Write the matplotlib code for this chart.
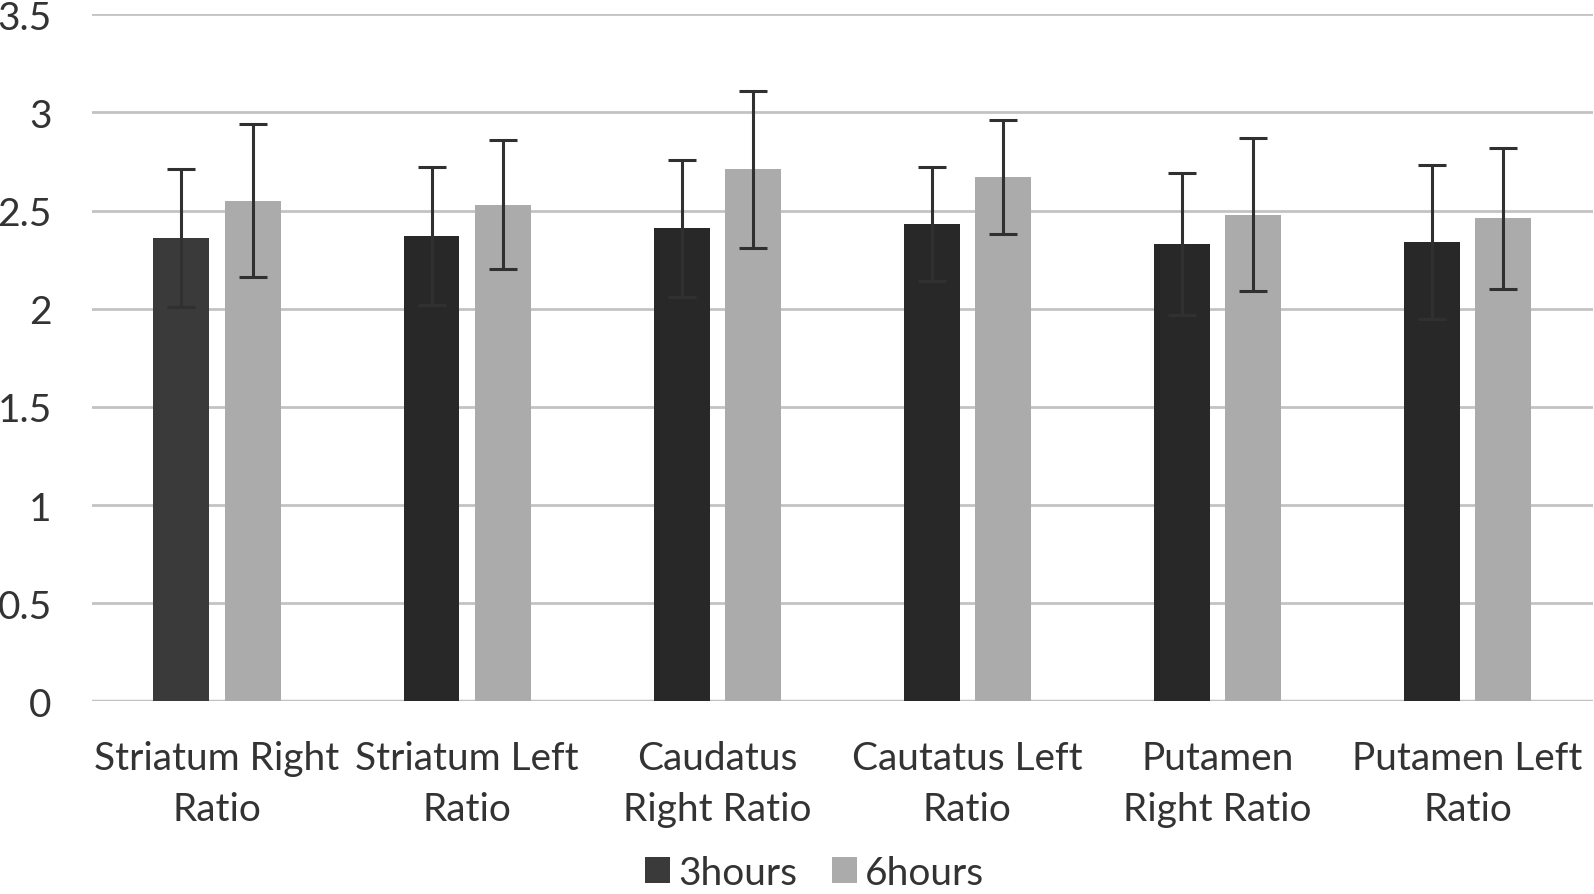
import numpy as np
import matplotlib.pyplot as plt

plt.rcParams['font.family'] = ['Lato', 'DejaVu Sans']

categories = ['Striatum Right\nRatio', 'Striatum Left\nRatio', 'Caudatus\nRight Ratio',
              'Cautatus Left\nRatio', 'Putamen\nRight Ratio', 'Putamen Left\nRatio']
hours3 = [2.36, 2.37, 2.41, 2.43, 2.33, 2.34]
hours3_err = [0.35, 0.35, 0.35, 0.29, 0.36, 0.39]
hours6 = [2.55, 2.53, 2.71, 2.67, 2.48, 2.46]
hours6_err = [0.39, 0.33, 0.40, 0.29, 0.39, 0.36]

fig = plt.figure(figsize=(15.94, 8.95), dpi=100)
ax = fig.add_axes([0.0577, 0.2151, 0.9414, 0.7679])

x = np.arange(len(categories))
w = 0.2236
off = 0.1423
dark_colors = ['#3a3a3a'] + ['#282828'] * (len(categories) - 1)

ax.bar(x - off, hours3, w, color=dark_colors, label='3hours', zorder=2)
ax.bar(x + off, hours6, w, color='#ababab', label='6hours', zorder=2)
err_kw = dict(fmt='none', ecolor='#303030', elinewidth=2.2, capsize=10, capthick=2.2, zorder=3)
ax.errorbar(x - off, hours3, yerr=hours3_err, **err_kw)
ax.errorbar(x + off, hours6, yerr=hours6_err, **err_kw)

ax.set_xlim(-0.5, len(categories) - 0.5)
ax.set_ylim(0, 3.5)
ax.set_yticks([0, 0.5, 1, 1.5, 2, 2.5, 3, 3.5])
ax.set_yticklabels(['0', '0.5', '1', '1.5', '2', '2.5', '3', '3.5'])
ax.set_xticks(x)
ax.set_xticklabels(categories, linespacing=1.5)
ax.grid(axis='y', color='#c3c3c3', linewidth=2, zorder=0)
for s in ['top', 'right', 'left', 'bottom']:
    ax.spines[s].set_visible(False)
ax.axhline(0, color='#bfbfbf', linewidth=2.5, zorder=1)
ax.tick_params(axis='y', length=0, labelsize=28, labelcolor='#333333', pad=29)
ax.tick_params(axis='x', length=0, labelsize=28, labelcolor='#333333', pad=28)

fig.legend(loc='center', bbox_to_anchor=(0.511, 0.024), ncol=2, frameon=False,
           fontsize=28, handlelength=0.65, handleheight=0.65, handletextpad=0.2,
           columnspacing=0.9, labelcolor='#333333')

fig.savefig('out.png', dpi=100)
